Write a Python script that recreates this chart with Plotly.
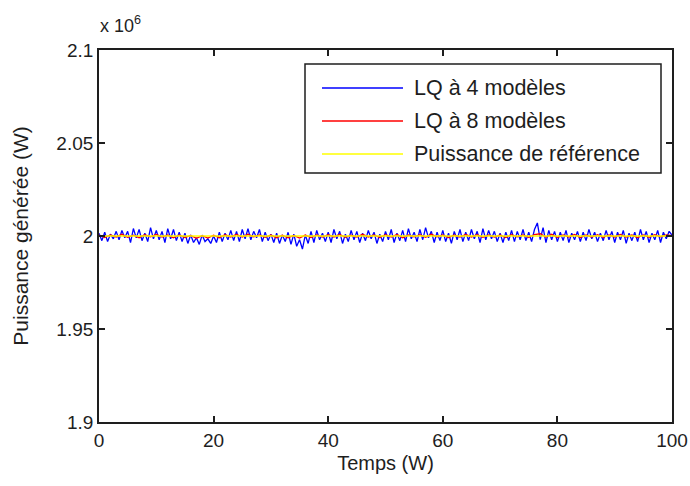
import plotly.graph_objects as go

# ---- data ----
time_blue = [i * 0.5 for i in range(201)]
dev_blue_kw = [
    1.5, -2.5, 2.0, -3.0, 1.0, -1.5, 2.5, -2.0, 3.0, -1.0,
    2.5, -3.5, 4.0, -1.0, 3.5, -2.5, 1.5, -3.0, 4.5, -1.5,
    3.0, -2.0, 2.5, -3.5, 4.0, -1.5, 3.5, -2.5, 2.0, -3.0,
    1.5, -4.0, 0.5, -3.5, -1.0, -4.5, 0.5, -3.0, -1.5, -4.0,
    0.0, -3.5, 2.0, -3.0, 1.5, -2.0, 3.0, -2.5, 2.5, -3.0,
    3.5, -1.5, 4.0, -2.0, 2.5, -1.0, 3.5, -3.0, 2.0, -2.5,
    1.0, -3.5, 1.5, -4.0, 0.5, -3.0, 2.0, -4.5, 1.0, -5.5,
    -2.0, -7.0, 0.5, -4.0, 2.5, -3.5, 3.0, -2.0, 1.5, -3.0,
    2.0, -3.5, 3.5, -1.5, 2.5, -4.0, 1.0, -3.0, 3.0, -2.0,
    2.5, -3.5, 1.5, -2.5, 3.0, -1.5, 2.0, -4.0, 1.0, -3.0,
    2.5, -2.0, 3.5, -3.5, 1.5, -2.5, 3.0, -3.0, 4.0, -1.5,
    2.0, -3.0, 3.5, -2.0, 4.5, -1.0, 2.5, -3.5, 2.0, -2.5,
    3.0, -3.0, 1.5, -4.0, 2.5, -2.0, 3.5, -3.0, 2.0, -2.5,
    3.5, -1.5, 2.5, -3.5, 4.0, -2.0, 3.0, -1.5, 2.5, -3.0,
    1.5, -3.5, 2.0, -2.5, 3.0, -3.0, 2.5, -2.0, 3.5, -2.5,
    2.0, -3.0, 3.5, 7.0, -2.0, 4.5, -3.5, 3.0, -2.0, 2.5,
    -3.0, 2.0, -2.5, 3.0, -3.5, 1.5, -2.0, 2.5, -3.0, 2.0,
    -2.5, 3.5, -1.5, 2.0, -3.0, 1.5, -2.5, 3.0, -2.0, 2.5,
    -3.5, 2.0, -2.0, 3.0, -4.0, 1.5, -2.5, 2.0, -3.0, 3.5,
    -2.0, 2.5, -3.5, 1.5, -2.0, 3.0, -3.5, 2.0, -1.5, 2.5, 0.5,
]
time_red = list(range(101))
dev_red_kw = [
    0.5, -0.8, 0.6, -0.5, 0.9, -0.7, 0.4, -0.9, 0.7, -0.4,
    0.8, -0.6, 0.5, -1.0, 0.6, -0.8, 0.3, -1.2, 0.2, -1.1,
    0.4, -0.9, 0.7, -0.5, 0.8, -0.6, 0.9, -0.4, 0.6, -0.7,
    0.5, -0.9, 0.4, -1.0, 0.3, -1.1, 0.5, -0.8, 0.6, -0.6,
    0.7, -0.5, 0.8, -0.7, 0.4, -0.6, 0.9, -0.5, 0.6, -0.8,
    0.7, -0.6, 0.8, -0.9, 0.5, -0.5, 0.7, -0.7, 0.9, -0.4,
    0.6, -0.8, 0.5, -0.6, 0.8, -0.5, 0.7, -0.7, 0.6, -0.6,
    0.5, -0.8, 0.7, -0.5, 0.6, -0.7, 0.8, 1.2, -0.6, 0.9,
    -0.7, 0.6, -0.5, 0.8, -0.8, 0.5, -0.6, 0.7, -0.7, 0.6,
    -0.5, 0.8, -0.6, 0.5, -0.8, 0.6, -0.7, 0.7, -0.5, 0.6, 0.2,
]
reference_power = 2.0e6
series_names = ["LQ à 4 modèles", "LQ à 8 modèles", "Puissance de référence"]
series_colors = ["#0000ff", "#ff0000", "#ffff00"]
y_ticks = [1.9e6, 1.95e6, 2.0e6, 2.05e6, 2.1e6]
y_tick_labels = ["1.9", "1.95", "2", "2.05", "2.1"]
x_ticks = [0, 20, 40, 60, 80, 100]

blue_y = [reference_power + d * 1000 for d in dev_blue_kw]
red_y = [reference_power + d * 1000 for d in dev_red_kw]

FONT = "Liberation Sans, Arial, sans-serif"
INK = "#1e1e1e"

fig = go.Figure()
fig.add_trace(go.Scatter(x=time_blue, y=blue_y, mode="lines", name=series_names[0],
                         line=dict(color=series_colors[0], width=1.3), showlegend=False))
fig.add_trace(go.Scatter(x=time_red, y=red_y, mode="lines", name=series_names[1],
                         line=dict(color=series_colors[1], width=1.3), showlegend=False))
fig.add_trace(go.Scatter(x=[0, 100], y=[reference_power, reference_power], mode="lines",
                         name=series_names[2],
                         line=dict(color=series_colors[2], width=1.3), showlegend=False))

# legend drawn MATLAB-style
L, R, T, B = 99, 672, 50, 422
def px(xp):
    return (xp - L) / (R - L)
def py(yp):
    return (B - yp) / (B - T)

shapes = [dict(type="rect", xref="paper", yref="paper",
               x0=px(305), x1=px(661), y0=py(173), y1=py(64),
               line=dict(color=INK, width=1.5), fillcolor="white", layer="above")]
annotations = []
rows = [88, 121, 154]
for name, col, ry in zip(series_names, series_colors, rows):
    shapes.append(dict(type="line", xref="paper", yref="paper",
                       x0=px(322), x1=px(403), y0=py(ry), y1=py(ry),
                       line=dict(color=col, width=1.5), layer="above"))
    annotations.append(dict(xref="paper", yref="paper", x=px(412), y=py(ry),
                            text=name, showarrow=False, xanchor="left", yanchor="middle",
                            font=dict(family=FONT, size=21.5, color=INK)))

annotations.append(dict(xref="paper", yref="paper", x=px(98), y=py(24),
                        text="x 10<sup>6</sup>",
                        showarrow=False, xanchor="left", yanchor="middle",
                        font=dict(family=FONT, size=18, color=INK)))

fig.update_layout(
    width=690, height=486,
    margin=dict(l=L, r=690 - R, t=T, b=486 - B, autoexpand=False),
    paper_bgcolor="white", plot_bgcolor="white",
    font=dict(family=FONT, size=19, color=INK),
    shapes=shapes, annotations=annotations,
    xaxis=dict(range=[0, 100], tickvals=x_ticks, ticks="inside", ticklen=6,
               showgrid=False, zeroline=False, showline=True, linecolor=INK,
               linewidth=1.8, mirror="ticks", tickcolor=INK, tickwidth=1.5,
               tickfont=dict(size=19), automargin=False,
               title=dict(text="Temps (W)", standoff=6, font=dict(size=20))),
    yaxis=dict(range=[1.9e6, 2.1e6], tickvals=y_ticks, ticktext=y_tick_labels,
               ticks="inside", ticklen=6, showgrid=False, zeroline=False,
               showline=True, linecolor=INK, linewidth=1.8, mirror="ticks",
               tickcolor=INK, tickwidth=1.5, tickfont=dict(size=19), automargin=False,
               title=dict(text="Puissance générée (W)", standoff=22, font=dict(size=21))),
)

fig.write_html("out.html")
